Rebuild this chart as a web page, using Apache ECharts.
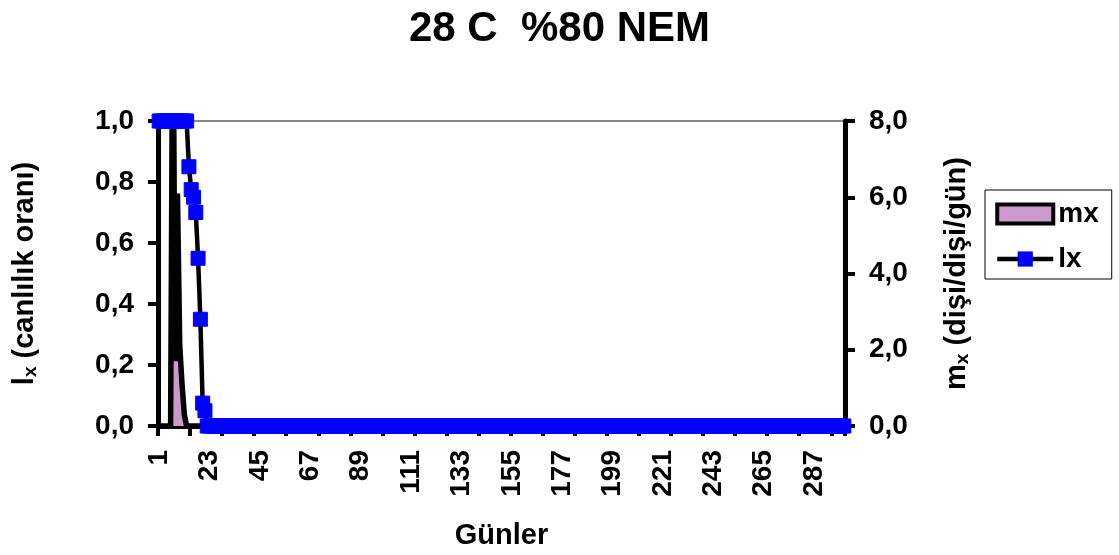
<!DOCTYPE html>
<html>
<head>
<meta charset="utf-8">
<script src="https://cdn.jsdelivr.net/npm/echarts@6/dist/echarts.min.js"></script>
<style>
  html, body { margin: 0; padding: 0; background: #fff; }
  #chart { width: 1119px; height: 555px; }
</style>
</head>
<body>
<div id="chart"></div>
<script>
// Days 1..300 of the life table
const days = [];
for (let d = 1; d <= 300; d++) days.push(String(d));

// lx: survival rate (left axis, 0..1)
const lx = [
  1, 1, 1, 1, 1, 1, 1, 1, 1, 1, 1, 1, 1, 0.85, 0.775, 0.75, 0.7, 0.55, 0.35, 0.075,
  0.05, 0, 0, 0, 0, 0, 0, 0, 0, 0,
  0, 0, 0, 0, 0, 0, 0, 0, 0, 0, 0, 0, 0, 0, 0, 0, 0, 0, 0, 0, 0, 0, 0, 0, 0, 0, 0, 0, 0, 0,
  0, 0, 0, 0, 0, 0, 0, 0, 0, 0, 0, 0, 0, 0, 0, 0, 0, 0, 0, 0, 0, 0, 0, 0, 0, 0, 0, 0, 0, 0,
  0, 0, 0, 0, 0, 0, 0, 0, 0, 0, 0, 0, 0, 0, 0, 0, 0, 0, 0, 0, 0, 0, 0, 0, 0, 0, 0, 0, 0, 0,
  0, 0, 0, 0, 0, 0, 0, 0, 0, 0, 0, 0, 0, 0, 0, 0, 0, 0, 0, 0, 0, 0, 0, 0, 0, 0, 0, 0, 0, 0,
  0, 0, 0, 0, 0, 0, 0, 0, 0, 0, 0, 0, 0, 0, 0, 0, 0, 0, 0, 0, 0, 0, 0, 0, 0, 0, 0, 0, 0, 0,
  0, 0, 0, 0, 0, 0, 0, 0, 0, 0, 0, 0, 0, 0, 0, 0, 0, 0, 0, 0, 0, 0, 0, 0, 0, 0, 0, 0, 0, 0,
  0, 0, 0, 0, 0, 0, 0, 0, 0, 0, 0, 0, 0, 0, 0, 0, 0, 0, 0, 0, 0, 0, 0, 0, 0, 0, 0, 0, 0, 0,
  0, 0, 0, 0, 0, 0, 0, 0, 0, 0, 0, 0, 0, 0, 0, 0, 0, 0, 0, 0, 0, 0, 0, 0, 0, 0, 0, 0, 0, 0,
  0, 0, 0, 0, 0, 0, 0, 0, 0, 0, 0, 0, 0, 0, 0, 0, 0, 0, 0, 0, 0, 0, 0, 0, 0, 0, 0, 0, 0, 0
];

// mx: daily fecundity, female offspring per female per day (right axis, 0..8)
const mx = [
  0, 0, 0, 0, 0, 0, 12, 1.7, 6.1, 2.1, 1.1, 0.3, 0, 0, 0, 0, 0, 0, 0, 0,
  0, 0, 0, 0, 0, 0, 0, 0, 0, 0,
  0, 0, 0, 0, 0, 0, 0, 0, 0, 0, 0, 0, 0, 0, 0, 0, 0, 0, 0, 0, 0, 0, 0, 0, 0, 0, 0, 0, 0, 0,
  0, 0, 0, 0, 0, 0, 0, 0, 0, 0, 0, 0, 0, 0, 0, 0, 0, 0, 0, 0, 0, 0, 0, 0, 0, 0, 0, 0, 0, 0,
  0, 0, 0, 0, 0, 0, 0, 0, 0, 0, 0, 0, 0, 0, 0, 0, 0, 0, 0, 0, 0, 0, 0, 0, 0, 0, 0, 0, 0, 0,
  0, 0, 0, 0, 0, 0, 0, 0, 0, 0, 0, 0, 0, 0, 0, 0, 0, 0, 0, 0, 0, 0, 0, 0, 0, 0, 0, 0, 0, 0,
  0, 0, 0, 0, 0, 0, 0, 0, 0, 0, 0, 0, 0, 0, 0, 0, 0, 0, 0, 0, 0, 0, 0, 0, 0, 0, 0, 0, 0, 0,
  0, 0, 0, 0, 0, 0, 0, 0, 0, 0, 0, 0, 0, 0, 0, 0, 0, 0, 0, 0, 0, 0, 0, 0, 0, 0, 0, 0, 0, 0,
  0, 0, 0, 0, 0, 0, 0, 0, 0, 0, 0, 0, 0, 0, 0, 0, 0, 0, 0, 0, 0, 0, 0, 0, 0, 0, 0, 0, 0, 0,
  0, 0, 0, 0, 0, 0, 0, 0, 0, 0, 0, 0, 0, 0, 0, 0, 0, 0, 0, 0, 0, 0, 0, 0, 0, 0, 0, 0, 0, 0,
  0, 0, 0, 0, 0, 0, 0, 0, 0, 0, 0, 0, 0, 0, 0, 0, 0, 0, 0, 0, 0, 0, 0, 0, 0, 0, 0, 0, 0, 0
];

const FONT = '"Liberation Sans", Arial, sans-serif';
const comma1 = v => v.toFixed(1).replace('.', ',');

const chart = echarts.init(document.getElementById('chart'), null, { renderer: 'canvas' });

const axisLine = { show: true, lineStyle: { color: '#000', width: 5 } };
const axisTick = { show: true, length: 10, lineStyle: { color: '#000', width: 4 } };
const tickFont = { color: '#000', fontSize: 28, fontWeight: 'bold', fontFamily: FONT };
const nameRich = {
  a: { color: '#000', fontSize: 29, fontWeight: 'bold', fontFamily: FONT },
  s: { color: '#000', fontSize: 19, fontWeight: 'bold', fontFamily: FONT, verticalAlign: 'bottom', padding: [11, 0, 0, 0] }
};

chart.setOption({
  animation: false,
  backgroundColor: '#fff',
  title: {
    text: '28 C  %80 NEM',
    left: 'center',
    top: 3,
    textStyle: { color: '#000', fontSize: 42, fontWeight: 'bold', fontFamily: FONT }
  },
  legend: {
    orient: 'vertical',
    left: 985,
    top: 190,
    borderColor: '#000',
    borderWidth: 1,
    padding: [10, 13, 6, 10],
    itemGap: 17,
    itemWidth: 56,
    itemHeight: 19,
    textStyle: { color: '#000', fontSize: 28, fontWeight: 'bold', fontFamily: FONT },
    data: [
      { name: 'mx', icon: 'rect', itemStyle: { color: '#CC99CC', borderColor: '#000', borderWidth: 4 } },
      { name: 'lx', lineStyle: { width: 4.5, color: '#000' } }
    ]
  },
  grid: { left: 158, right: 274, top: 121, bottom: 128, containLabel: false },
  xAxis: {
    type: 'category',
    data: days,
    boundaryGap: true,
    name: 'Günler',
    nameLocation: 'middle',
    nameGap: 95,
    nameTextStyle: { color: '#000', fontSize: 29, fontWeight: 'bold', fontFamily: FONT },
    axisLine: axisLine,
    axisTick: Object.assign({}, axisTick, { interval: 13 }),
    axisLabel: Object.assign({}, tickFont, { interval: 21, rotate: 90, margin: 24 }),
    splitLine: { show: false }
  },
  yAxis: [
    {
      type: 'value',
      min: 0, max: 1, interval: 0.2,
      position: 'left',
      name: '{a|l}{s|x}{a| (canlılık oranı)}',
      nameLocation: 'middle',
      nameRotate: 90,
      nameGap: 118,
      nameTextStyle: { rich: nameRich },
      axisLine: axisLine,
      axisTick: axisTick,
      axisLabel: Object.assign({}, tickFont, { margin: 24, formatter: comma1 }),
      splitLine: {
        show: true,
        lineStyle: { width: 2, color: ['rgba(0,0,0,0)', 'rgba(0,0,0,0)', 'rgba(0,0,0,0)', 'rgba(0,0,0,0)', 'rgba(0,0,0,0)', '#888'] }
      }
    },
    {
      type: 'value',
      min: 0, max: 8, interval: 2,
      position: 'right',
      name: '{a|m}{s|x}{a| (dişi/dişi/gün)}',
      nameLocation: 'middle',
      nameRotate: 90,
      nameGap: 97,
      nameTextStyle: { rich: nameRich },
      axisLine: axisLine,
      axisTick: axisTick,
      axisLabel: Object.assign({}, tickFont, { margin: 24, formatter: comma1 }),
      splitLine: { show: false }
    }
  ],
  series: [
    {
      name: 'mx',
      type: 'line',
      yAxisIndex: 1,
      data: mx,
      showSymbol: false,
      symbol: 'none',
      clip: true,
      lineStyle: { color: '#000', width: 5.5, join: 'miter' },
      itemStyle: { color: '#CC99CC' },
      areaStyle: { color: '#CC99CC', opacity: 1 },
      z: 2
    },
    {
      name: 'lx',
      type: 'line',
      yAxisIndex: 0,
      data: lx,
      symbol: 'rect',
      symbolSize: 14,
      showAllSymbol: true,
      clip: false,
      lineStyle: { color: '#000', width: 4.5 },
      itemStyle: { color: '#0000FF', borderColor: '#0000FF' },
      z: 3
    }
  ]
});
</script>
</body>
</html>
